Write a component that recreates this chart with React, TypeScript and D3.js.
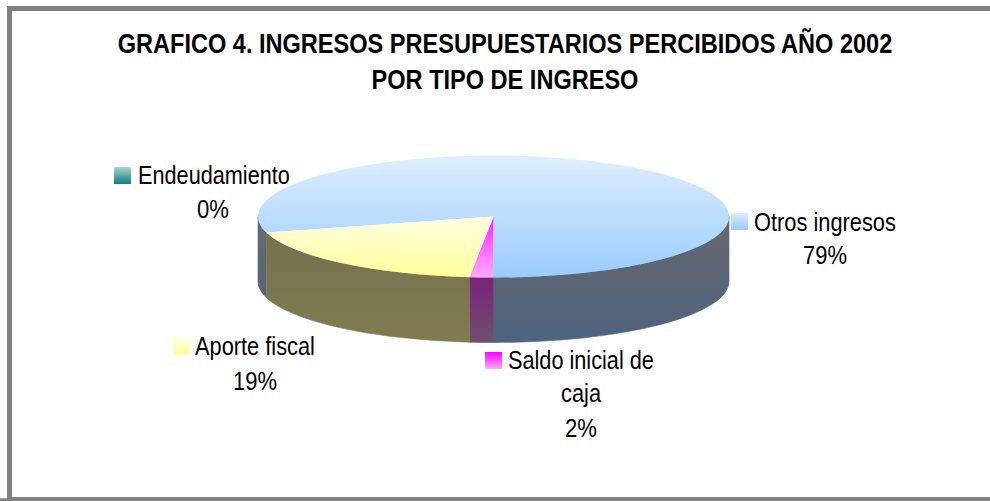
import React from "react";
import * as d3 from "d3";

// Data
const categories = ["Otros ingresos", "Saldo inicial de caja", "Aporte fiscal", "Endeudamiento"];
const values = [79.3, 1.6, 19.1, 0.02];
const percentLabels = ["79%", "2%", "19%", "0%"];
const titleLines = ["GRAFICO 4. INGRESOS PRESUPUESTARIOS PERCIBIDOS AÑO 2002", "POR TIPO DE INGRESO"];

// Presentation
const W = 990, H = 501;
const cx = 493.5, cy = 216.5, rx = 235.5, ry = 61, depth = 65;
const firstAngle = (-105.3 * Math.PI) / 180;
const FONT = "'Liberation Sans', Arial, sans-serif";
const topStops = [["#dfeeff", "#99ccff"], ["#ff22ff", "#ffaaff"], ["#ffffe2", "#ffff99"], ["#9ad0cc", "#0f7f7f"]];
const sideStops = [["#656870", "#4e637f"], ["#800080", "#70506e"], ["#737050", "#807c4e"], ["#0f5f5f", "#0f5f5f"]];
const swatchStops = [["#dbecff", "#99ccff"], ["#ff00ff", "#ffaaff"], ["#ffffdd", "#ffff99"], ["#a8d4d0", "#0f7f7f"]];
const labelLayout = [
  { sx: 731, sy: 213, tx: 754, y: 231, w: 142, lines: [] as [string, number, number, number][], pc: 825, py: 264, pw: 44, first: "Otros ingresos" },
  { sx: 485, sy: 352, tx: 508, y: 369, w: 146, lines: [["caja", 581, 402, 40]] as [string, number, number, number][], pc: 581, py: 436.5, pw: 32, first: "Saldo inicial de" },
  { sx: 173, sy: 338, tx: 195, y: 355, w: 120, lines: [] as [string, number, number, number][], pc: 255, py: 390, pw: 44, first: "Aporte fiscal" },
  { sx: 114, sy: 167, tx: 138, y: 184, w: 152, lines: [] as [string, number, number, number][], pc: 213, py: 218, pw: 32, first: "Endeudamiento" },
];

const ctx = document.createElement("canvas").getContext("2d")!;
function xScale(text: string, font: string, target: number) {
  ctx.font = font;
  return target / ctx.measureText(text).width;
}

// A text squeezed horizontally to the width it has in the picture
function Fit({ text, x, y, width, size, bold, anchor }: { text: string; x: number; y: number; width: number; size: number; bold?: boolean; anchor?: "middle" }) {
  const k = xScale(text, `${bold ? "bold " : ""}${size}px ${FONT}`, width);
  return (
    <text transform={`translate(${x},${y}) scale(${k},1)`} textAnchor={anchor} fontFamily={FONT} fontSize={size} fontWeight={bold ? "bold" : "normal"} fill="#000">
      {text}
    </text>
  );
}

const px = (a: number) => cx + rx * Math.sin(a);
const py = (a: number) => cy - ry * Math.cos(a);

function topPath(a0: number, a1: number) {
  const large = a1 - a0 > Math.PI ? 1 : 0;
  return `M${cx},${cy}L${px(a0)},${py(a0)}A${rx},${ry} 0 ${large} 1 ${px(a1)},${py(a1)}Z`;
}
function wallPath(a0: number, a1: number) {
  return `M${px(a0)},${py(a0)}A${rx},${ry} 0 0 1 ${px(a1)},${py(a1)}L${px(a1)},${py(a1) + depth}A${rx},${ry} 0 0 0 ${px(a0)},${py(a0) + depth}Z`;
}
// front-facing intervals of the rim
function frontParts(a0: number, a1: number) {
  const out: [number, number][] = [];
  for (const k of [-1, 0, 1]) {
    const lo = Math.PI / 2 + k * 2 * Math.PI, hi = (3 * Math.PI) / 2 + k * 2 * Math.PI;
    const s = Math.max(a0, lo), e = Math.min(a1, hi);
    if (e > s) out.push([s, e]);
  }
  return out;
}

export default function App() {
  const arcs = d3.pie<number>().sort(null).startAngle(firstAngle).endAngle(firstAngle + 2 * Math.PI)(values);
  const visible = arcs.map((d, i) => ({ d, i })).filter(({ d }) => d.endAngle - d.startAngle > 0.01);
  return (
    <svg width={W} height={H} viewBox={`0 0 ${W} ${H}`} style={{ position: "absolute", left: 0, top: 0, background: "#fff" }}>
      <defs>
        {arcs.map((_, i) => (
          <React.Fragment key={i}>
            <linearGradient id={`top${i}`} x1="0" y1="0" x2="0" y2="1">
              <stop offset="0" stopColor={topStops[i][0]} />
              <stop offset="1" stopColor={topStops[i][1]} />
            </linearGradient>
            <linearGradient id={`side${i}`} gradientUnits="userSpaceOnUse" x1="0" y1={cy + 10} x2="0" y2={cy + ry + depth}>
              <stop offset="0" stopColor={sideStops[i][0]} />
              <stop offset="1" stopColor={sideStops[i][1]} />
            </linearGradient>
            <linearGradient id={`sw${i}`} x1="0" y1="0" x2="0" y2="1">
              <stop offset="0" stopColor={swatchStops[i][0]} />
              <stop offset="1" stopColor={swatchStops[i][1]} />
            </linearGradient>
          </React.Fragment>
        ))}
      </defs>
      <rect x={9.5} y={8.5} width={W + 20} height={491} fill="#fff" stroke="#808080" strokeWidth={5} />
      <rect x={0} y={498.3} width={W} height={3} fill="#808080" />
      <Fit text={titleLines[0]} x={505} y={53} width={776} size={28} bold anchor="middle" />
      <Fit text={titleLines[1]} x={505} y={89} width={267} size={28} bold anchor="middle" />
      {visible.map(({ d, i }) =>
        frontParts(d.startAngle, d.endAngle).map(([s, e], j) => (
          <path key={`w${i}-${j}`} d={wallPath(s, e)} fill={`url(#side${i})`} stroke={`url(#side${i})`} strokeWidth={0.6} />
        ))
      )}
      {visible.map(({ d, i }) => (
        <path key={`t${i}`} d={topPath(d.startAngle, d.endAngle)} fill={`url(#top${i})`} />
      ))}
      {labelLayout.map((l, i) => (
        <g key={categories[i]}>
          <rect x={l.sx} y={l.sy} width={17} height={17} fill={`url(#sw${i})`} />
          <Fit text={l.first} x={l.tx} y={l.y} width={l.w} size={25.5} />
          {l.lines.map(([t, x, y, w]) => (
            <Fit key={t} text={t} x={x} y={y} width={w} size={25.5} anchor="middle" />
          ))}
          <Fit text={percentLabels[i]} x={l.pc} y={l.py} width={l.pw} size={25.5} anchor="middle" />
        </g>
      ))}
    </svg>
  );
}
